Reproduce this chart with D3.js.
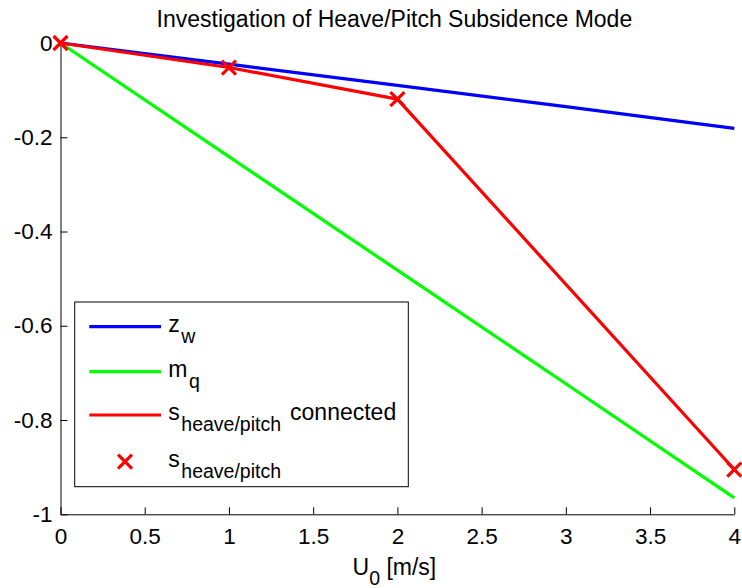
<!DOCTYPE html>
<html>
<head>
<meta charset="utf-8">
<script src="https://cdn.jsdelivr.net/npm/d3@7/dist/d3.min.js"></script>
<style>
  html, body { margin: 0; padding: 0; background: #fff; }
  svg { display: block; font-family: "Liberation Sans", Arial, Helvetica, sans-serif; }
</style>
</head>
<body>
<svg id="chart" width="742" height="588"></svg>
<script>
// Forward speed samples and the coefficient curves
const U0 = [0, 1, 2, 3, 4];
const zW = [0, -0.045, -0.09, -0.135, -0.181];
const mQ = [0, -0.241, -0.482, -0.723, -0.965];

// Subsidence-mode eigenvalue at the computed speeds
const sU = [0, 1, 2, 4];
const sHeavePitch = [0, -0.052, -0.119, -0.905];

// Tick values
const xTicks = [0, 0.5, 1, 1.5, 2, 2.5, 3, 3.5, 4];
const yTicks = [0, -0.2, -0.4, -0.6, -0.8, -1];

const svg = d3.select("#chart");
const plot = { left: 60.5, right: 734.3, top: 43, bottom: 514.3 };

const x = d3.scaleLinear().domain([0, 4]).range([plot.left, plot.right]);
const y = d3.scaleLinear().domain([-1, 0]).range([plot.bottom, plot.top]);

const tickFont = 22.5, labelFont = 23, subFont = 19.5;

// Axes (ticks pointing inward)
const xAxis = d3.axisBottom(x).tickValues(xTicks).tickFormat(d3.format("~g"))
  .tickSizeInner(-7).tickSizeOuter(0).tickPadding(14);
const yAxis = d3.axisLeft(y).tickValues(yTicks).tickFormat(d => d3.format("~g")(d).replace("\u2212", "-"))
  .tickSizeInner(-7).tickSizeOuter(0).tickPadding(8);

const gx = svg.append("g").attr("transform", `translate(0,${plot.bottom})`).call(xAxis);
const gy = svg.append("g").attr("transform", `translate(${plot.left},0)`).call(yAxis);
[gx, gy].forEach(g => {
  g.select(".domain").attr("stroke", "#000").attr("stroke-width", 1);
  g.selectAll(".tick line").attr("stroke", "#000").attr("stroke-width", 1);
  g.selectAll(".tick text").attr("fill", "#000").attr("font-size", tickFont)
    .attr("font-family", "Liberation Sans, Arial, sans-serif");
});

// Curves
const line = d3.line().x(d => x(d[0])).y(d => y(d[1]));
const series = [
  { xs: U0, ys: zW, color: "#0000ff" },
  { xs: U0, ys: mQ, color: "#00ff00" },
  { xs: sU, ys: sHeavePitch, color: "#ff0000" }
];
series.forEach(s => {
  svg.append("path")
    .datum(s.xs.map((v, i) => [v, s.ys[i]]))
    .attr("d", line)
    .attr("fill", "none")
    .attr("stroke", s.color)
    .attr("stroke-width", 3.2)
    .attr("stroke-linejoin", "round");
});

// Cross markers
const mk = 7;
function cross(g, cx, cy) {
  g.append("path")
    .attr("d", `M${cx - mk},${cy - mk}L${cx + mk},${cy + mk}M${cx - mk},${cy + mk}L${cx + mk},${cy - mk}`)
    .attr("stroke", "#ff0000").attr("stroke-width", 3.2).attr("fill", "none");
}
const markers = svg.append("g");
sU.forEach((v, i) => cross(markers, x(v), y(sHeavePitch[i])));

// Title and x-axis label
svg.append("text")
  .attr("x", (plot.left + plot.right) / 2 - 3).attr("y", 26.7)
  .attr("text-anchor", "middle").attr("font-size", labelFont).attr("fill", "#000")
  .text("Investigation of Heave/Pitch Subsidence Mode");

const xl = svg.append("text")
  .attr("x", (plot.left + plot.right) / 2 - 3).attr("y", 575)
  .attr("text-anchor", "middle").attr("font-size", labelFont).attr("fill", "#000");
xl.append("tspan").text("U");
xl.append("tspan").attr("font-size", subFont).attr("dy", 10).text("0");
xl.append("tspan").attr("dy", -10).text(" [m/s]");

// Legend
const leg = svg.append("g");
leg.append("rect")
  .attr("x", 74.7).attr("y", 302).attr("width", 333.6).attr("height", 184.7)
  .attr("fill", "#fff").attr("stroke", "#000").attr("stroke-width", 1);

const legendItems = [
  { main: "z", sub: "w", tail: "", color: "#0000ff", kind: "line" },
  { main: "m", sub: "q", tail: "", color: "#00ff00", kind: "line" },
  { main: "s", sub: "heave/pitch", tail: "connected", color: "#ff0000", kind: "line" },
  { main: "s", sub: "heave/pitch", tail: "", color: "#ff0000", kind: "marker" }
];
const rowY = [326.7, 371.7, 415, 461.7];
legendItems.forEach((it, i) => {
  const ry = rowY[i];
  if (it.kind === "line") {
    leg.append("line").attr("x1", 89.3).attr("x2", 161).attr("y1", ry).attr("y2", ry)
      .attr("stroke", it.color).attr("stroke-width", 3.2);
  } else {
    cross(leg, 125, ry);
  }
  const t = leg.append("text").attr("x", 168.3).attr("y", ry + 5)
    .attr("font-size", labelFont).attr("fill", "#000");
  t.append("tspan").text(it.main);
  t.append("tspan").attr("font-size", subFont).attr("dx", 1.5).attr("dy", 11).text(it.sub);
  if (it.tail) t.append("tspan").attr("dx", 9).attr("dy", -11).text(it.tail);
});
</script>
</body>
</html>
